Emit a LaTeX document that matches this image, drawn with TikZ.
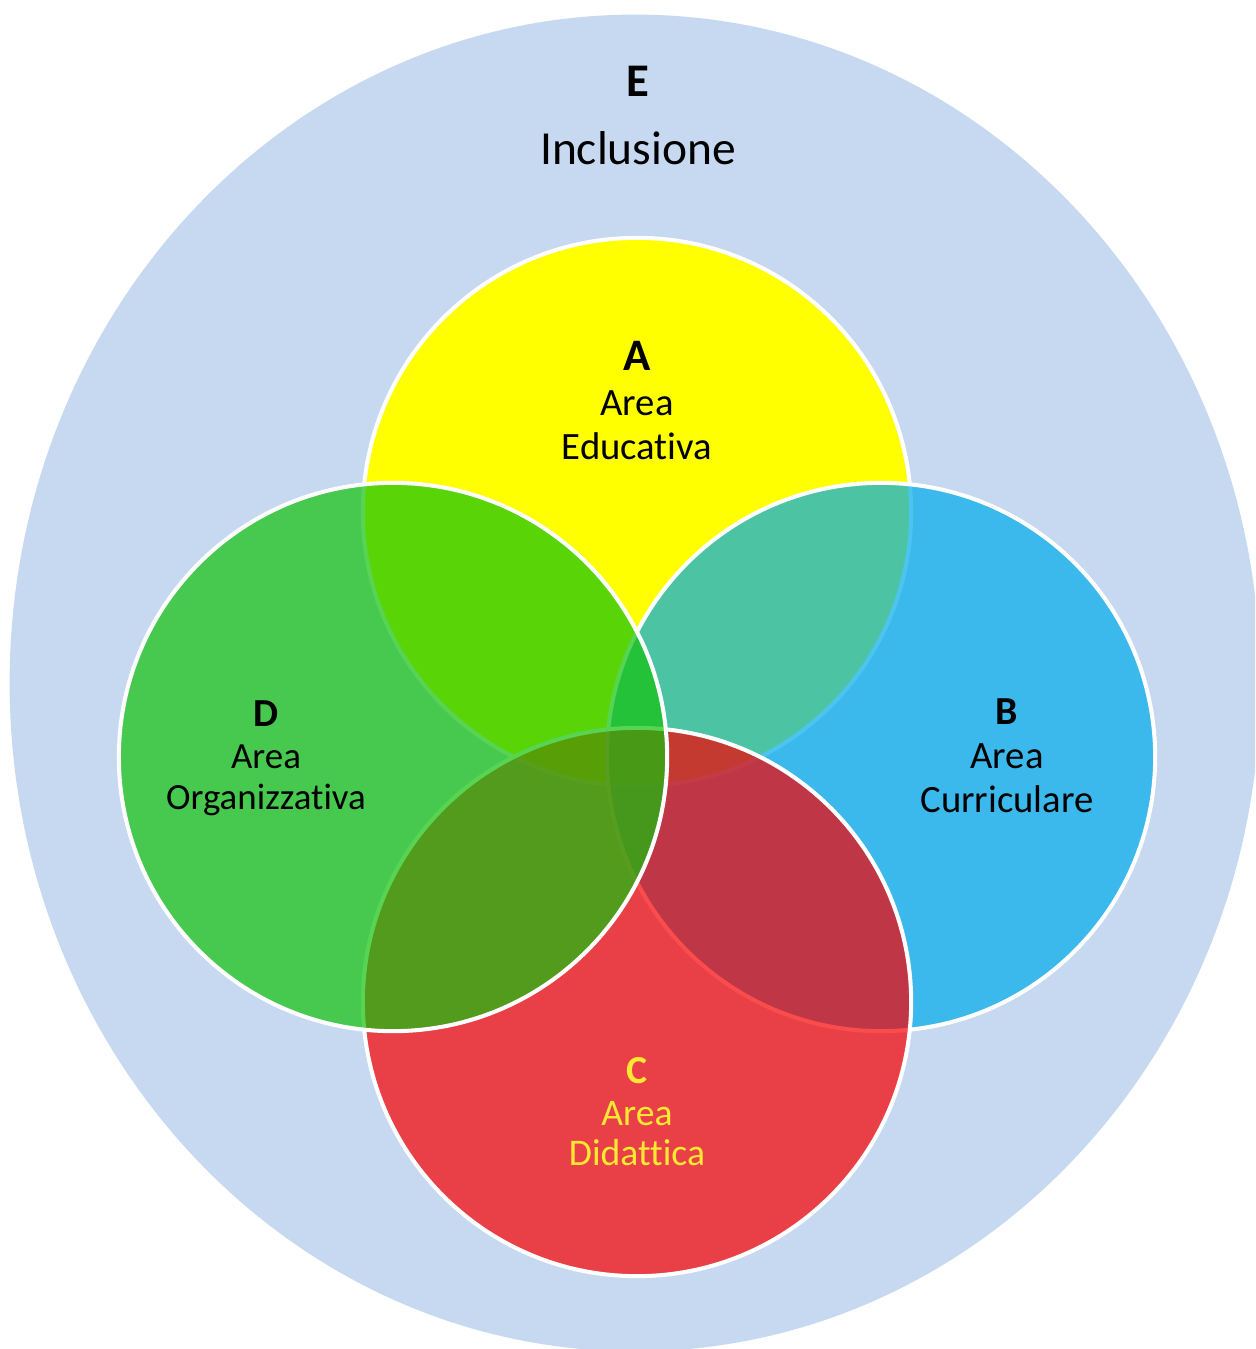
\documentclass[tikz,border=0pt]{standalone}
\usepackage{fontspec}
\setmainfont{Carlito}[Ligatures=NoCommon]
\definecolor{bgE}{RGB}{198,217,241}
\definecolor{cA}{RGB}{255,255,0}
\definecolor{cB}{RGB}{0,171,235}
\definecolor{cC}{RGB}{248,0,0}
\definecolor{cD}{RGB}{18,194,11}
\definecolor{txtC}{RGB}{250,232,50}
\begin{document}
\begin{tikzpicture}[x=0.01cm,y=-0.01cm,
  ring/.style={draw=white,line width=1.15pt},
  see/.style={fill opacity=0.7,draw opacity=1},
  lbl/.style={anchor=base,inner sep=0pt,text=black,font=\fontsize{11}{13}\selectfont},
  lblb/.style={lbl,font=\fontsize{11.3}{13}\selectfont\bfseries}]
\clip (0,0) rectangle (1255,1349);
\fill[white] (0,0) rectangle (1255,1349);
% outer set E
\fill[bgE] (635,683) ellipse [x radius=6.25cm, y radius=6.68cm];
% circles, drawn bottom to top
\draw[ring,fill=cA] (637,512) circle [radius=2.74cm];
\draw[ring,see,fill=cB] (881,757) circle [radius=2.74cm];
\draw[ring,see,fill=cC] (637,1002) circle [radius=2.74cm];
\draw[ring,see,fill=cD] (393,757) circle [radius=2.74cm];
% labels
\node[lblb,font=\fontsize{13.3}{15}\selectfont\bfseries] (eL) at (638,97) {E};
\node[lbl,font=\fontsize{13.5}{16}\selectfont] (eT) at (638,165) {Inclusione};
\node[lblb,font=\fontsize{12.8}{15}\selectfont\bfseries] (aL) at (637,370) {A};
\node[lbl] (aT1) at (637,416) {Area};
\node[lbl] (aT2) at (637,459) {Educativa};
\node[lblb] (bL) at (1007,724) {B};
\node[lbl] (bT1) at (1007,768) {Area};
\node[lbl] (bT2) at (1007,812) {Curriculare};
\node[lblb,text=txtC] (cL) at (637,1083) {C};
\node[lbl,text=txtC,font=\fontsize{10.7}{13}\selectfont] (cT1) at (637,1125) {Area};
\node[lbl,text=txtC,font=\fontsize{10.7}{13}\selectfont] (cT2) at (637,1165) {Didattica};
\node[lblb] (dL) at (266,726) {D};
\node[lbl,font=\fontsize{10.5}{13}\selectfont] (dT1) at (266,768) {Area};
\node[lbl,font=\fontsize{10.5}{13}\selectfont] (dT2) at (266,809) {Organizzativa};
\end{tikzpicture}
\end{document}
